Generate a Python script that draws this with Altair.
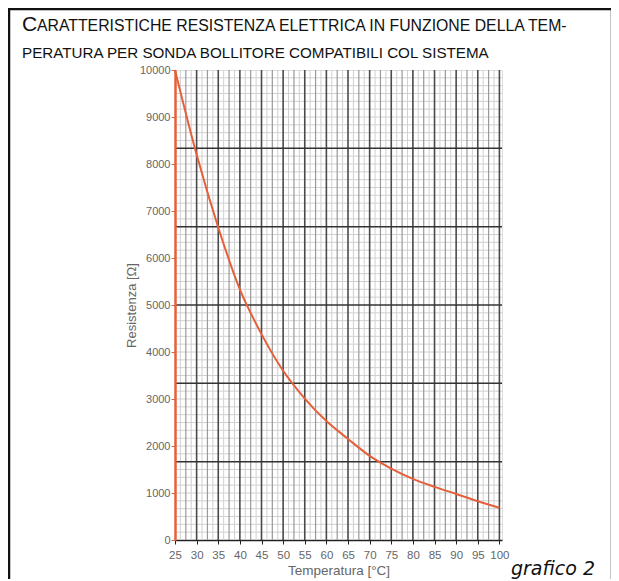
import altair as alt
import pandas as pd

# ---- data ----
temps = [25, 30, 35, 40, 45, 50, 55, 60, 65, 70, 75, 80, 85, 90, 95, 100]
res = [10000, 8200, 6650, 5330, 4380, 3600, 3010, 2530, 2150, 1790, 1520, 1300, 1130, 980, 825, 685]

x_ticks = list(range(25, 101, 5))
y_ticks = list(range(0, 10001, 1000))

title_cap = "C"
title_rest = "ARATTERISTICHE RESISTENZA ELETTRICA IN FUNZIONE DELLA TEM-"
title_line2 = "PERATURA PER SONDA BOLLITORE COMPATIBILI COL SISTEMA"
x_title = "Temperatura [°C]"
y_title = "Resistenza [Ω]"
caption = "grafico 2"

# grid positions
major_x = list(range(30, 101, 5))
medium_x = [v + 2.5 for v in range(25, 100, 5)]
minor_x = [25 + 1.25 * k for k in range(1, 61) if k % 2 == 1]
major_y = [10000 / 6 * i for i in range(1, 6)]
minor_y = [10000 / 60 * i for i in range(1, 60) if i % 10 != 0]

FONT = "Liberation Sans"
W, H = 327, 470
xs = alt.Scale(domain=[25, 100.6], nice=False, zero=False)
ys = alt.Scale(domain=[0, 10000], nice=False, zero=True)

x_axis = alt.Axis(values=x_ticks, grid=False, labelColor="#666", labelFont=FONT,
                  labelFontSize=11.5, tickColor="#222", tickSize=4, domainColor="#222",
                  domainWidth=1.5, titleColor="#666", titleFont=FONT, titleFontSize=13.5,
                  titleFontWeight="normal", labelPadding=5, titlePadding=3,
                  labelFlush=False, format="d")
y_axis = alt.Axis(values=y_ticks, grid=False, labelColor="#666", labelFont=FONT,
                  labelFontSize=11, tickColor="#e5603a", tickSize=4,
                  domainColor="#e5603a", domainWidth=2.5, titleColor="#666",
                  titleFont=FONT, titleFontSize=13, titleFontWeight="normal",
                  labelPadding=1, titlePadding=1, zindex=1, format="d")

curve_df = pd.DataFrame({"T": temps, "R": res})

minor_x_layer = alt.Chart(pd.DataFrame({"x": minor_x})).mark_rule(
    color="#d0d0d0", strokeWidth=1
).encode(x=alt.X("x:Q", scale=xs, title=x_title, axis=x_axis))
minor_y_layer = alt.Chart(pd.DataFrame({"y": minor_y})).mark_rule(
    color="#d0d0d0", strokeWidth=1
).encode(y=alt.Y("y:Q", scale=ys, title=y_title, axis=y_axis))
medium_x_layer = alt.Chart(pd.DataFrame({"x": medium_x})).mark_rule(
    color="#999999", strokeWidth=1.2
).encode(x=alt.X("x:Q", scale=xs, title=x_title, axis=x_axis))
major_x_layer = alt.Chart(pd.DataFrame({"x": major_x})).mark_rule(
    color="#4a4a4a", strokeWidth=1.6
).encode(x=alt.X("x:Q", scale=xs, title=x_title, axis=x_axis))
major_y_layer = alt.Chart(pd.DataFrame({"y": major_y})).mark_rule(
    color="#333333", strokeWidth=1.5
).encode(y=alt.Y("y:Q", scale=ys, title=y_title, axis=y_axis))

curve = alt.Chart(curve_df).mark_line(
    color="#e5603a", strokeWidth=2, interpolate="monotone"
).encode(
    x=alt.X("T:Q", scale=xs, title=x_title, axis=x_axis),
    y=alt.Y("R:Q", scale=ys, title=y_title, axis=y_axis),
)

# outer frame (decoration)
frame_df = pd.DataFrame({"a": [0]})
frame_left = alt.Chart(frame_df).mark_rule(color="#111", strokeWidth=2.5).encode(
    x=alt.value(-166), x2=alt.value(-166), y=alt.value(-61), y2=alt.value(520))
frame_top = alt.Chart(frame_df).mark_rule(color="#111", strokeWidth=2.5).encode(
    x=alt.value(-167), x2=alt.value(438), y=alt.value(-61), y2=alt.value(-61))
frame_right = alt.Chart(frame_df).mark_rule(color="#111", strokeWidth=2.5).encode(
    x=alt.value(437), x2=alt.value(437), y=alt.value(-61), y2=alt.value(520))

t_cap = alt.Chart(pd.DataFrame({"t": [title_cap]})).mark_text(
    align="left", baseline="alphabetic", font=FONT, fontSize=21, color="#111"
).encode(x=alt.value(-153), y=alt.value(-39), text="t:N")
t_rest = alt.Chart(pd.DataFrame({"t": [title_rest]})).mark_text(
    align="left", baseline="alphabetic", font=FONT, fontSize=15.8, color="#111"
).encode(x=alt.value(-138), y=alt.value(-39), text="t:N")
t_line2 = alt.Chart(pd.DataFrame({"t": [title_line2]})).mark_text(
    align="left", baseline="alphabetic", font=FONT, fontSize=15.2, color="#111"
).encode(x=alt.value(-153), y=alt.value(-12), text="t:N")
t_caption = alt.Chart(pd.DataFrame({"t": [caption]})).mark_text(
    align="left", baseline="alphabetic", font="DejaVu Sans", fontSize=19,
    fontStyle="italic", color="#111"
).encode(x=alt.value(336), y=alt.value(505), text="t:N")

chart = alt.layer(
    minor_x_layer, minor_y_layer, medium_x_layer, major_x_layer, major_y_layer,
    curve, frame_left, frame_top, frame_right, t_cap, t_rest, t_line2, t_caption
).properties(
    width=W, height=H,
    autosize=alt.AutoSizeParams(type="none"),
    padding={"left": 167, "top": 62, "right": 109, "bottom": 39},
).configure_view(stroke="#444", strokeWidth=1.5).configure(background="white")

chart.save("out.html", embed_options={"renderer": "svg", "actions": False})
